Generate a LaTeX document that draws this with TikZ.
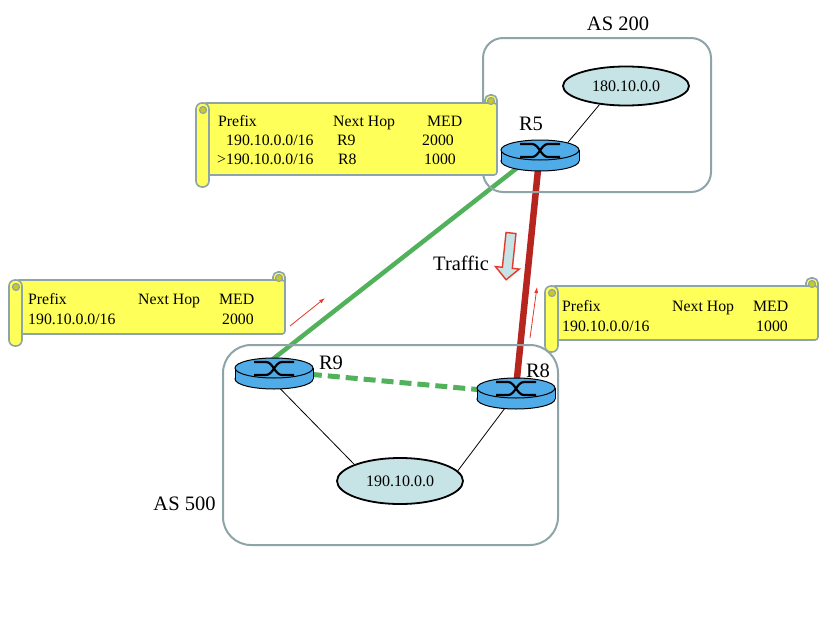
\documentclass[tikz,border=0pt]{standalone}
\usepackage{fontspec}
\setmainfont{Liberation Serif}
\usetikzlibrary{shapes.geometric,backgrounds,arrows.meta}
\definecolor{asGray}{RGB}{143,164,168}
\definecolor{scrollYellow}{RGB}{255,255,90}
\definecolor{curlYellow}{RGB}{200,200,40}
\definecolor{routerBlue}{RGB}{80,172,232}
\definecolor{netCyan}{RGB}{198,227,230}
\definecolor{linkGreen}{RGB}{82,178,92}
\definecolor{linkRed}{RGB}{183,38,30}
\definecolor{hintRed}{RGB}{232,56,43}

\tikzset{
  asbox/.style={draw=asGray, line width=2pt},
  scrollpaper/.style={draw=asGray, line width=1.6pt, fill=scrollYellow},
  routertop/.style={ellipse, draw, line width=1pt, fill=routerBlue, minimum width=78pt, minimum height=20pt, inner sep=0pt},
  netnode/.style={ellipse, draw, line width=1.8pt, fill=netCyan, minimum width=126pt, inner sep=0pt, font=\fontsize{16}{19}\selectfont},
  bigtext/.style={font=\fontsize{20.5}{24}\selectfont, inner sep=0pt, anchor=base},
  tabletext/.style={inner sep=0pt, anchor=base west},
  link/.style={line width=0.8pt},
}

% router: name, x, y of the top face
\newcommand{\router}[3]{%
  \draw[line width=1pt, fill=routerBlue] (#2,#3+11) ellipse[x radius=39pt, y radius=10pt];
  \fill[routerBlue] (#2-39,#3) rectangle (#2+39,#3+11);
  \draw[line width=1pt] (#2-39,#3) -- (#2-39,#3+11) (#2+39,#3) -- (#2+39,#3+11);
  \node[routertop] (#1) at (#2,#3) {};
  \draw[line width=2.2pt] (#2-20,#3-6) -- (#2-8,#3-6) .. controls (#2-1,#3-6) and (#2+1,#3+7) .. (#2+8,#3+7) -- (#2+20,#3+7);
  \draw[line width=2.2pt] (#2-20,#3+7) -- (#2-8,#3+7) .. controls (#2-1,#3+7) and (#2+1,#3-6) .. (#2+8,#3-6) -- (#2+20,#3-6);
}
% scroll: left, top, right, bottom
\newcommand{\scrollbox}[4]{%
  \draw[scrollpaper, rounded corners=5pt] (#3-12,#2+16) rectangle (#3,#2);
  \draw[scrollpaper, rounded corners=3pt] (#1+7,#2+8) rectangle (#3,#4-12);
  \draw[scrollpaper, rounded corners=6pt] (#1,#2+8) rectangle (#1+13,#4);
  \draw[draw=asGray, line width=1.2pt, fill=curlYellow] (#1+7,#2+15) circle[radius=3.5pt] (#3-6,#2+6) circle[radius=3.5pt];
}

\begin{document}
\begin{tikzpicture}[x=1pt, y=-1pt]
  \useasboundingbox (0,0) rectangle (838,616);

  % autonomous systems
  \draw[asbox, rounded corners=20pt] (483,38) rectangle (711,192);
  \draw[asbox, rounded corners=28pt] (223,345) rectangle (558,545);
  \node[bigtext] (as200) at (618,30) {AS 200};
  \node[bigtext] (as500) at (184.5,510) {AS 500};

  % networks and routers
  \node[netnode, minimum height=39pt] (e180) at (626,86) {180.10.0.0};
  \node[netnode, minimum height=46pt] (e190) at (400,481) {190.10.0.0};
  \router{r5}{540}{150}
  \router{r9}{274}{368}
  \router{r8}{516}{388}
  \node[bigtext] (lr5) at (531,130) {R5};
  \node[bigtext] (lr9) at (331,369) {R9};
  \node[bigtext] (lr8) at (538,377) {R8};

  \begin{scope}[on background layer]
    \draw[link] (e180.215) -- (r5.15);
    \draw[link] (e190.160) -- (r9.250);
    \draw[link] (e190.10) -- (r8.250);
    \draw[linkGreen, line width=4.5pt] (r5.center) -- (r9.200);
    \draw[linkRed, line width=6.5pt] (r5.center) -- (r8.center);
    \draw[linkGreen, line width=5pt, dash pattern=on 12pt off 6pt] ([yshift=-3pt]r9.center) -- ([yshift=-5pt]r8.center);
  \end{scope}

  % routing tables
  \scrollbox{196}{95}{497}{187}
  \scrollbox{9}{272}{285}{346}
  \scrollbox{545}{278}{818}{352}
  \node[tabletext, font=\fontsize{15.8}{19}\selectfont] (tabr5) at (217,126) {\begin{tabular}[t]{@{}p{116pt}@{}p{89pt}@{}l@{}}
    \hspace{1pt}Prefix & Next Hop & \hspace{5pt}MED\\
    \hspace{9pt}190.10.0.0/16 & \hspace{4pt}R9 & 2000\\
    >190.10.0.0/16 & \hspace{5pt}R8 & \hspace{2pt}1000
  \end{tabular}};
  \node[tabletext, font=\fontsize{15.8}{20}\selectfont] (tabr9) at (28,304) {\begin{tabular}[t]{@{}p{110pt}@{}p{81pt}@{}l@{}}
    Prefix & Next Hop & MED\\
    190.10.0.0/16 & & \hspace{3pt}2000
  \end{tabular}};
  \node[tabletext, font=\fontsize{15.8}{20}\selectfont] (tabr8) at (562,311) {\begin{tabular}[t]{@{}p{110pt}@{}p{81pt}@{}l@{}}
    Prefix & Next Hop & MED\\
    190.10.0.0/16 & & \hspace{3pt}1000
  \end{tabular}};

  % traffic direction
  \node[bigtext, anchor=base west] (traffic) at (433,270) {Traffic};
  \begin{scope}[shift={(511,233)}, rotate=-6]
    \draw[draw=hintRed, line width=1.4pt, fill=netCyan] (-5,0) -- (5,0) -- (5,35) -- (12,35) -- (0,47) -- (-12,35) -- (-5,35) -- cycle;
  \end{scope}

  % advertisement hints
  \coordinate (hintA1) at (290,326);
  \coordinate (hintA2) at (325,298);
  \coordinate (hintB1) at (530,338);
  \coordinate (hintB2) at (537,287);
  \draw[hintRed, line width=0.8pt, -{Latex[length=6pt,width=4pt]}] (hintA1) -- (hintA2);
  \draw[hintRed, line width=0.8pt, -{Latex[length=6pt,width=4pt]}] (hintB1) -- (hintB2);
\end{tikzpicture}
\end{document}
